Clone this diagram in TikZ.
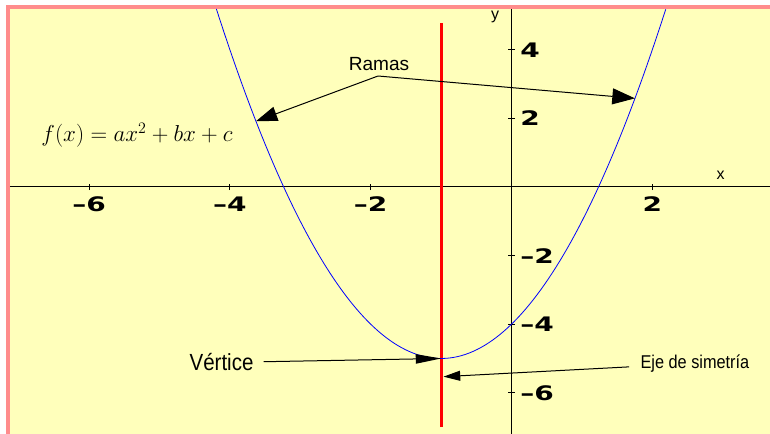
\documentclass[tikz,border=0pt]{standalone}
\usepackage{fontspec}
\newfontfamily\rotulo{Liberation Sans}
\newfontfamily\notafont[FakeStretch=0.88]{Liberation Sans}
\newfontfamily\ticksfont[FakeStretch=1.4]{DejaVu Sans}
\usetikzlibrary{arrows.meta}
\definecolor{fondo}{RGB}{255,255,187}
\definecolor{borde}{RGB}{255,140,140}

\begin{document}
\begin{tikzpicture}[x=52.8pt,y=25.725pt,line join=round,
  tick/.style={font=\ticksfont\bfseries\fontsize{15}{15}\selectfont},
  eje/.style={line width=0.75pt},
  flecha/.style={line width=0.75pt,-{Triangle[length=16pt,width=11pt]}}]
  \useasboundingbox (-7.266,-7.201) rectangle (3.672,5.452);
  \fill[white] (-7.266,-7.201) rectangle (3.672,5.452);
  \fill[borde] (-7.181,-7.201) rectangle (3.672,5.306);
  \fill[fondo] (-7.124,-7.201) rectangle (3.672,5.190);

  \draw[eje] (-7.124,0) -- (3.672,0);
  \draw[eje] (0,-7.201) -- (0,5.190);
  \foreach \i/\t [count=\k] in {-6/{–6},-4/{–4},-2/{–2},2/2}{
    \draw[eje] (\i,-0.09) -- (\i,0.09);
    \node[tick] (tx\k) at (\i,-0.5) {\t};
  }
  \foreach \i/\t [count=\k] in {4/4,2/2,-2/{–2},-4/{–4},-6/{–6}}{
    \draw[eje] (-0.045,\i) -- (0.045,\i);
    \node[tick,anchor=west] (ty\k) at (0.06,\i) {\t};
  }
  \node[font=\rotulo\fontsize{12}{12}\selectfont] (ylab) at (-0.234,4.96) {y};
  \node[font=\rotulo\fontsize{12}{12}\selectfont] (xlab) at (2.969,0.35) {x};

  \draw[red,line width=2.25pt] (-1,-7.0) -- (-1,4.78);
  \draw[blue,line width=0.6pt,domain=-4.192:2.192,samples=120] plot (\x,{(\x+1)^2-5});

  \node[anchor=base,font=\fontsize{17}{17}\selectfont] (formula) at (-5.32,1.32) {$f(x)=ax^2+bx+c$};

  \coordinate (ramaL) at (-3.63,{(-3.63+1)^2-5});
  \coordinate (ramaR) at (1.754,{(1.754+1)^2-5});
  \coordinate (vert) at (-1,-5);
  \coordinate (ejePt) at (-0.965,-5.53);
  \coordinate (ramasPt) at (-1.896,3.236);

  \node[anchor=base,font=\rotulo\fontsize{14.3}{14.3}\selectfont] (ramas) at (-1.882,3.382) {Ramas};
  \node[anchor=base,font=\notafont\fontsize{17.5}{17.5}\selectfont] (vertice) at (-4.119,-5.364) {Vértice};
  \node[anchor=base,font=\notafont\fontsize{13.9}{13.9}\selectfont] (simetria) at (2.605,-5.286) {Eje de simetría};

  \draw[flecha] (ramasPt) -- (ramaL);
  \draw[flecha,-{Triangle[length=17pt,width=12pt]}] (ramasPt) -- (ramaR);
  \draw[flecha,-{Triangle[length=19pt,width=7pt]},shorten <=4pt] (vertice) -- (vert);
  \draw[flecha,-{Triangle[length=12.5pt,width=7.5pt]},shorten <=5pt] (simetria) -- (ejePt);
\end{tikzpicture}
\end{document}
